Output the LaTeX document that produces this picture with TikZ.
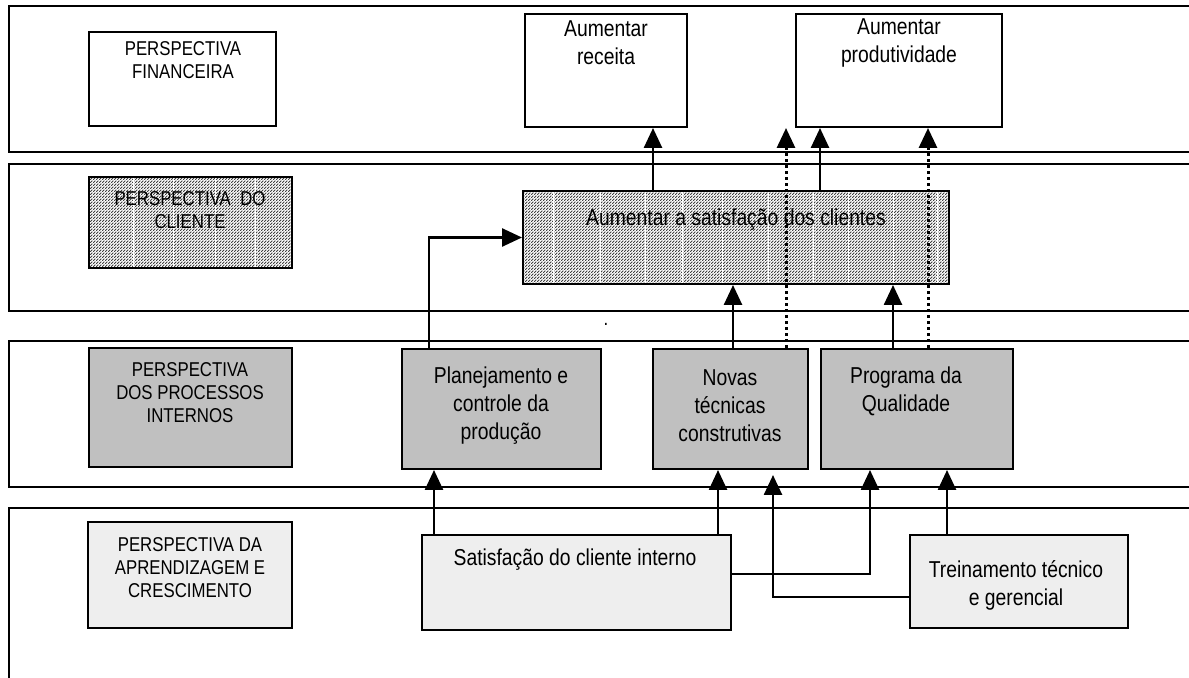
\documentclass[tikz,border=0pt]{standalone}
\usepackage{fontspec}
\setmainfont{Liberation Sans}[FakeStretch=0.84]
\usetikzlibrary{arrows.meta,patterns.meta}
\definecolor{procfill}{RGB}{192,192,192}
\definecolor{learnfill}{RGB}{238,238,238}
% dense diagonal hatching for the customer perspective
\tikzdeclarepattern{
  name=finehatch,
  type=uncolored,
  bounding box={(0,0) and (1.5pt,1.5pt)},
  tile size={(1.5pt,1.5pt)},
  code={\draw[line width=0.5pt] (-0.1pt,-0.1pt) -- (1.6pt,1.6pt);}
}
\begin{document}
\begin{tikzpicture}[x=0.5pt,y=-0.5pt,
  band/.style={draw, line width=1.2pt},
  box/.style={draw, rectangle, line width=1pt, inner sep=0pt},
  finbox/.style={box, fill=white},
  clibox/.style={box, pattern=finehatch, pattern color=black!75},
  procbox/.style={box, fill=procfill},
  learnbox/.style={box, fill=learnfill},
  txt/.style={align=center, inner sep=0pt, font=\fontsize{11.5}{14}\selectfont},
  lbl/.style={align=center, inner sep=0pt, font=\fontsize{10}{11.5}\selectfont},
  arr/.style={line width=1.3pt, -{Triangle[length=10pt,width=9pt]}},
  dotarr/.style={line width=1.5pt, dash pattern=on 1.5pt off 1.5pt, -{Triangle[length=10pt,width=9pt]}},
  stripe/.style={white, line width=0.5pt}
]
\useasboundingbox (0,0) rectangle (1189,678);
\clip (0,0) rectangle (1189,678);

% perspective bands
\draw[band] (9,6) rectangle (1200,152);
\draw[band] (9,164) rectangle (1200,311);
\draw[band] (9,341) rectangle (1200,487);
\draw[band] (9,508) rectangle (1200,700);

% perspective headings
\node[finbox, minimum width=93.5pt, minimum height=47pt] (finH) at (182.5,79) {};
\node[clibox, minimum width=101.5pt, minimum height=45.5pt] (cliH) at (190.5,222.5) {};
\foreach \x in {133,173,215,255} \draw[stripe] (\x,178) -- (\x,267);
\node[procbox, minimum width=101.5pt, minimum height=59.5pt] (procH) at (190.5,407.5) {};
\node[learnbox, minimum width=102pt, minimum height=53pt] (learnH) at (190,575) {};

% financial objectives
\node[finbox, minimum width=81pt, minimum height=56.5pt] (receita) at (606,70.5) {};
\node[finbox, minimum width=103pt, minimum height=56.5pt] (produt) at (899,70.5) {};

% customer objective
\node[clibox, minimum width=213pt, minimum height=46.5pt] (satcli) at (736,237.5) {};
\foreach \x in {553,600,645,682,722,768,813,848,893,937} \draw[stripe] (\x,192) -- (\x,283);

% internal processes
\node[procbox, minimum width=99.5pt, minimum height=60pt] (plan) at (501.5,409) {};
\node[procbox, minimum width=77.5pt, minimum height=60pt] (novas) at (730.5,409) {};
\node[procbox, minimum width=96pt, minimum height=60pt] (prog) at (917,409) {};

% learning and growth
\node[learnbox, minimum width=154.5pt, minimum height=47.5pt] (satint) at (576.5,582.5) {};
\node[learnbox, minimum width=109pt, minimum height=46.5pt] (trein) at (1019,581.5) {};

% texts
\node[lbl] (finT) at (183,60.5) {PERSPECTIVA\\FINANCEIRA};
\node[lbl] (cliT) at (190,210.5) {PERSPECTIVA\ \ DO\\CLIENTE};
\node[lbl] (procT) at (190,393) {PERSPECTIVA\\DOS PROCESSOS\\INTERNOS};
\node[lbl] (learnT) at (190,568) {PERSPECTIVA DA\\APRENDIZAGEM E\\CRESCIMENTO};
\node[txt] (receitaT) at (606,43) {Aumentar\\receita};
\node[txt] (produtT) at (899,43) {Aumentar\\produtividade};
\node[txt] (satcliT) at (736,220) {Aumentar a satisfação dos clientes};
\node[txt] (planT) at (501,406) {Planejamento e\\controle da\\produção};
\node[txt] (novasT) at (730,406) {Novas\\técnicas\\construtivas};
\node[txt] (progT) at (906,391.5) {Programa da\\Qualidade};
\node[txt] (satintT) at (575,560) {Satisfação do cliente interno};
\node[txt] (treinT) at (1016,585) {Treinamento técnico\\e gerencial};
\node[lbl] (dot) at (606,324) {.};

% connector end points
\coordinate (planOut) at ([xshift=14pt]plan.north west);
\coordinate (rcIn) at ([xshift=23.5pt]receita.south);
\coordinate (pdIn) at ([xshift=-39.5pt]produt.south);
\coordinate (nvUp) at ([xshift=27.75pt]novas.north);
\coordinate (pgUp) at ([xshift=5.5pt]prog.north);
\coordinate (nvOut) at ([xshift=1.25pt]novas.north);
\coordinate (pgOut) at ([xshift=-12pt]prog.north);
\coordinate (siA) at ([xshift=6.5pt]satint.north west);
\coordinate (siB) at ([xshift=-7pt]satint.north east);
\coordinate (siR) at ([yshift=4.25pt]satint.east);
\coordinate (pgIn) at ([xshift=-23.5pt]prog.south);
\coordinate (trL) at ([yshift=-7.75pt]trein.west);
\coordinate (nvIn) at ([xshift=21.25pt,yshift=-2.5pt]novas.south);
\coordinate (trT) at ([xshift=19pt]trein.north west);

% connectors
\draw[arr] (planOut) |- (satcli.west);
\draw[arr] (satcli.north -| rcIn) -- (rcIn);
\draw[arr] (satcli.north -| pdIn) -- (pdIn);
\draw[arr] (nvOut) -- (nvOut |- satcli.south);
\draw[arr] (pgOut) -- (pgOut |- satcli.south);
\draw[arr] (siA) -- (siA |- plan.south);
\draw[arr] (siB) -- (siB |- novas.south);
\draw[arr] (siR) -| (pgIn);
\draw[arr] (trL) -| (nvIn);
\draw[arr] (trT) -- (trT |- prog.south);
\draw[dotarr] (nvUp) -- (nvUp |- produt.south);
\draw[dotarr] (pgUp) -- (pgUp |- produt.south);
\end{tikzpicture}
\end{document}
